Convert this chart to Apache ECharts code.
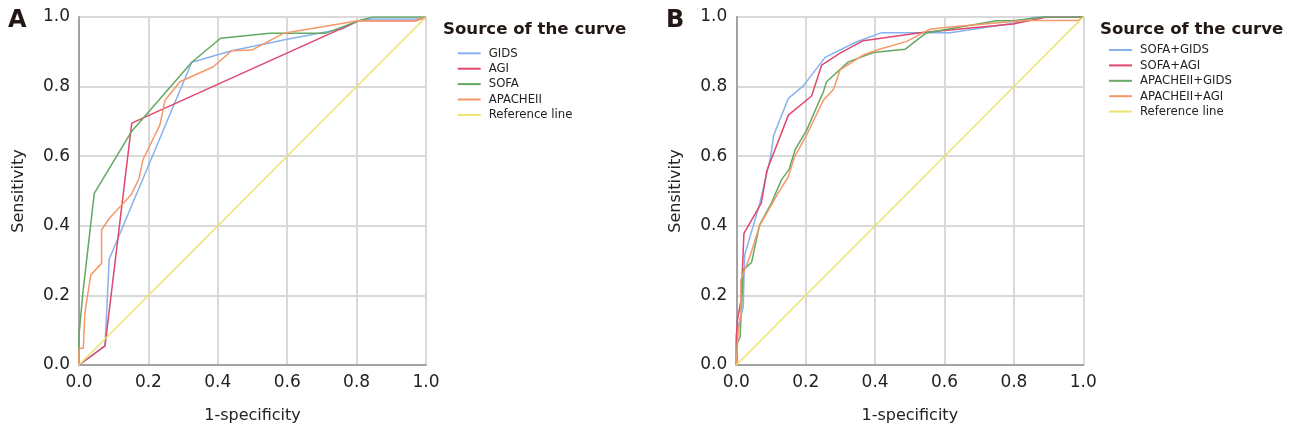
<!DOCTYPE html>
<html>
<head>
<meta charset="utf-8">
<script src="https://cdn.jsdelivr.net/npm/echarts@6/dist/echarts.min.js"></script>
<style>
html,body{margin:0;padding:0;background:#fff;}
#chart{width:1293px;height:434px;}
</style>
</head>
<body>
<div id="chart"></div>
<script>
// ---- Data (x = 1-specificity, y = sensitivity) ----
const tickValues = [0, 0.2, 0.4, 0.6, 0.8, 1.0];

const namesA = ['GIDS', 'AGI', 'SOFA', 'APACHEII', 'Reference line'];
const namesB = ['SOFA+GIDS', 'SOFA+AGI', 'APACHEII+GIDS', 'APACHEII+AGI', 'Reference line'];

const gidsA = [[0,0],[0.075,0.055],[0.087,0.304],[0.325,0.870],[0.44,0.903],[0.60,0.936],[0.76,0.966],[0.805,0.989],[0.85,0.994],[0.995,0.994],[1,1]];
const agiA = [[0,0],[0.075,0.055],[0.152,0.695],[0.805,0.989],[0.97,0.989],[1,1]];
const sofaA = [[0,0],[0,0.086],[0.011,0.206],[0.044,0.493],[0.152,0.672],[0.325,0.870],[0.408,0.939],[0.55,0.953],[0.71,0.953],[0.805,0.989],[0.848,1.0],[1,1]];
const apacheA = [[0,0],[0,0.048],[0.0125,0.048],[0.017,0.149],[0.024,0.196],[0.034,0.259],[0.065,0.292],[0.065,0.388],[0.087,0.421],[0.150,0.489],[0.173,0.536],[0.184,0.589],[0.233,0.690],[0.238,0.713],[0.248,0.761],[0.291,0.814],[0.387,0.857],[0.44,0.903],[0.498,0.905],[0.589,0.953],[0.805,0.989],[0.97,0.989],[1,1]];

const sofaGidsB = [[0,0],[0,0.09],[0.01,0.129],[0.02,0.168],[0.024,0.316],[0.068,0.465],[0.099,0.599],[0.108,0.661],[0.150,0.766],[0.193,0.802],[0.256,0.884],[0.347,0.929],[0.419,0.955],[0.616,0.955],[0.798,0.982],[0.861,1.0],[1,1]];
const sofaAgiB = [[0,0],[0,0.07],[0.003,0.129],[0.014,0.187],[0.022,0.378],[0.072,0.465],[0.088,0.558],[0.150,0.718],[0.217,0.773],[0.246,0.862],[0.299,0.896],[0.366,0.932],[0.53,0.955],[0.798,0.98],[0.894,1.0],[1,1]];
const apacheGidsB = [[0,0],[0.003,0.062],[0.011,0.081],[0.020,0.273],[0.044,0.295],[0.067,0.402],[0.101,0.465],[0.130,0.532],[0.152,0.562],[0.170,0.620],[0.203,0.675],[0.240,0.761],[0.251,0.785],[0.260,0.814],[0.323,0.871],[0.395,0.898],[0.486,0.907],[0.539,0.948],[0.55,0.955],[0.750,0.989],[0.798,0.989],[0.885,1.0],[1,1]];
const apacheAgiB = [[0,0],[0.005,0.091],[0.014,0.149],[0.013,0.244],[0.039,0.311],[0.067,0.40],[0.12,0.493],[0.150,0.541],[0.168,0.599],[0.203,0.661],[0.251,0.761],[0.28,0.792],[0.299,0.848],[0.366,0.891],[0.405,0.905],[0.491,0.930],[0.558,0.965],[0.60,0.970],[0.83,0.99],[0.985,0.99],[1,1]];

const referenceLine = [[0,0],[1,1]];

// ---- Styles ----
const colors = ['#86b2ee', '#e0476e', '#63a863', '#f5986a', '#ece36c'];
const tickFont = 'DejaVu Sans';
const legendFont = "'DejaVu Sans Condensed', 'Liberation Sans', sans-serif";

function xAxis(gi) {
  return {
    gridIndex: gi, type: 'value', min: 0, max: 1, interval: 0.2,
    name: '1-specificity', nameLocation: 'middle', nameGap: 43,
    nameTextStyle: { fontFamily: tickFont, fontSize: 16, color: '#222' },
    axisLine: { show: true, lineStyle: { color: '#a3a3a3', width: 2 } },
    axisTick: { show: false },
    axisLabel: { fontFamily: tickFont, fontSize: 17, color: '#222', margin: 9,
      formatter: v => v.toFixed(1) },
    splitLine: { show: true, lineStyle: { color: '#d9d9d9', width: 2 } }
  };
}
function yAxis(gi) {
  return {
    gridIndex: gi, type: 'value', min: 0, max: 1, interval: 0.2,
    name: 'Sensitivity', nameLocation: 'middle', nameGap: 52,
    nameTextStyle: { fontFamily: tickFont, fontSize: 16, color: '#222' },
    axisLine: { show: true, lineStyle: { color: '#a3a3a3', width: 2 } },
    axisTick: { show: false },
    axisLabel: { fontFamily: tickFont, fontSize: 17, color: '#222', margin: 9,
      formatter: v => v.toFixed(1) },
    splitLine: { show: true, lineStyle: { color: '#d9d9d9', width: 2 } }
  };
}
function line(name, data, ci, gi) {
  return {
    name: name, type: 'line', data: data, xAxisIndex: gi, yAxisIndex: gi,
    showSymbol: false, symbol: 'none', animation: false,
    color: colors[ci],
    lineStyle: { color: colors[ci], width: 1.5 }
  };
}
function legend(names, left, top) {
  return {
    orient: 'vertical', left: left, top: top, padding: 0,
    data: names, icon: 'rect', itemWidth: 23, itemHeight: 2, itemGap: 0.4,
    selectedMode: false,
    textStyle: { fontFamily: legendFont, fontSize: 13, color: '#222', lineHeight: 15, padding: [0, 0, 0, 3] }
  };
}
function heading(text, left, top, size) {
  return { text: text, left: left, top: top, padding: 0,
    textStyle: { fontFamily: 'DejaVu Sans', fontWeight: 'bold', fontSize: size, color: '#231815' } };
}

const option = {
  backgroundColor: '#fff',
  animation: false,
  title: [
    heading('A', 8, 9, 24),
    heading('B', 666, 9, 24),
    heading('Source of the curve', 443, 21, 16.6),
    heading('Source of the curve', 1100, 21, 16.6)
  ],
  legend: [legend(namesA, 457.7, 45.8), legend(namesB, 1109, 42.5)],
  grid: [
    { left: 79, top: 17, width: 347, height: 348 },
    { left: 736.3, top: 17, width: 347, height: 348 }
  ],
  xAxis: [xAxis(0), xAxis(1)],
  yAxis: [yAxis(0), yAxis(1)],
  series: [
    line(namesA[0], gidsA, 0, 0),
    line(namesA[1], agiA, 1, 0),
    line(namesA[2], sofaA, 2, 0),
    line(namesA[3], apacheA, 3, 0),
    line(namesA[4], referenceLine, 4, 0),
    line(namesB[0], sofaGidsB, 0, 1),
    line(namesB[1], sofaAgiB, 1, 1),
    line(namesB[2], apacheGidsB, 2, 1),
    line(namesB[3], apacheAgiB, 3, 1),
    line(namesB[4], referenceLine, 4, 1)
  ]
};

const chart = echarts.init(document.getElementById('chart'), null, { renderer: 'canvas' });
chart.setOption(option);
</script>
</body>
</html>
